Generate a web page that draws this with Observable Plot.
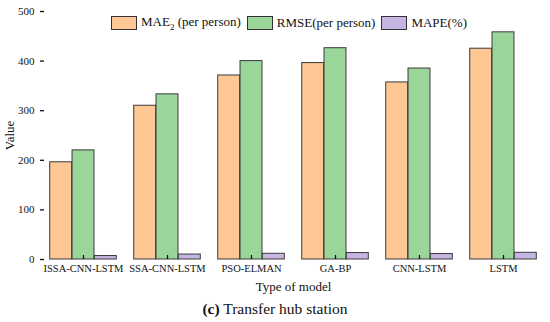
<!DOCTYPE html>
<html>
<head>
<meta charset="utf-8">
<script src="https://cdn.jsdelivr.net/npm/d3@7"></script>
<script src="https://cdn.jsdelivr.net/npm/@observablehq/plot@0.6"></script>
<style>
  html, body { margin: 0; padding: 0; background: #fff; }
  #wrap { position: relative; width: 550px; height: 322px; font-family: "Liberation Serif", serif; }
  #legend { position: absolute; top: 14px; left: 111px; display: flex; align-items: center; font-size: 13px; color: #111; font-family: "Liberation Serif", serif; }
  .sw { width: 26px; height: 14px; border: 1px solid #333; box-sizing: border-box; margin-right: 4px; }
  .lab { margin-right: 6px; white-space: nowrap; }
  #title { width: 550px; text-align: center; font-size: 15.5px; line-height: 27px; color: #111; font-family: "Liberation Serif", serif; }
  #chart svg text { font-family: "Liberation Serif", serif; }
  #chart g[aria-label="x-axis label"] text, #chart g[aria-label="y-axis label"] text { font-size: 13px; }
</style>
</head>
<body>
<div id="wrap">
  <div id="chart"></div>
  <div id="title"><b>(c)</b> Transfer hub station</div>
  <div id="legend"></div>
</div>
<script>
const categories = ["ISSA-CNN-LSTM", "SSA-CNN-LSTM", "PSO-ELMAN", "GA-BP", "CNN-LSTM", "LSTM"];
const seriesNames = ["MAE2 (per person)", "RMSE(per person)", "MAPE(%)"];
const maeValues = [196, 310, 371, 396, 357, 425];
const rmseValues = [220, 333, 400, 426, 385, 458];
const mapeValues = [7, 10, 11.5, 13, 11, 13.5];
const colors = ["#FEC794", "#9AD69A", "#C5B5E0"];
const yTicks = [0, 100, 200, 300, 400, 500];

const W = 550, H = 295, mL = 40, mR = 4, mT = 11, mB = 36;
const bw = (W - mL - mR) / categories.length;
const barW = 22.3;
const off = (bw - 3 * barW) / 2;

const allSeries = [maeValues, rmseValues, mapeValues];
const barMarks = allSeries.map((vals, i) =>
  Plot.barY(categories.map((c, j) => ({cat: c, v: vals[j]})), {
    x: "cat", y: "v",
    fill: colors[i], stroke: "#3a3a3a", strokeWidth: 1,
    insetLeft: off + i * barW,
    insetRight: bw - off - (i + 1) * barW
  })
);

const chart = Plot.plot({
  width: W, height: H,
  marginLeft: mL, marginRight: mR, marginTop: mT, marginBottom: mB,
  style: {fontFamily: "Liberation Serif, serif", fontSize: "11px", color: "#111", background: "#fff"},
  x: {domain: categories, padding: 0},
  y: {domain: [0, 500]},
  marks: [
    ...barMarks,
    Plot.axisY({ticks: yTicks, tickSize: 0, tickPadding: 6, line: true, strokeWidth: 1.3,
      label: "Value", labelAnchor: "center", labelArrow: "none", labelOffset: 36}),
    Plot.axisY({ticks: yTicks, text: null, tickSize: 4, dx: 4, strokeWidth: 1.3, label: null}),
    Plot.axisX({tickSize: 0, tickPadding: 5, line: true, strokeWidth: 1.3, fontSize: 10.5,
      label: "Type of model", labelAnchor: "center", labelArrow: "none", labelOffset: 31}),
    Plot.axisX({text: null, tickSize: 4, dy: -4, strokeWidth: 1.3, label: null})
  ]
});
document.getElementById("chart").appendChild(chart);

const legend = document.getElementById("legend");
seriesNames.forEach((name, i) => {
  const sw = document.createElement("div");
  sw.className = "sw"; sw.style.background = colors[i];
  const lab = document.createElement("span");
  lab.className = "lab";
  if (name.startsWith("MAE2")) lab.innerHTML = "MAE<sub style='font-size:9px'>2</sub> (per person)";
  else lab.textContent = name;
  legend.appendChild(sw); legend.appendChild(lab);
});
</script>
</body>
</html>
